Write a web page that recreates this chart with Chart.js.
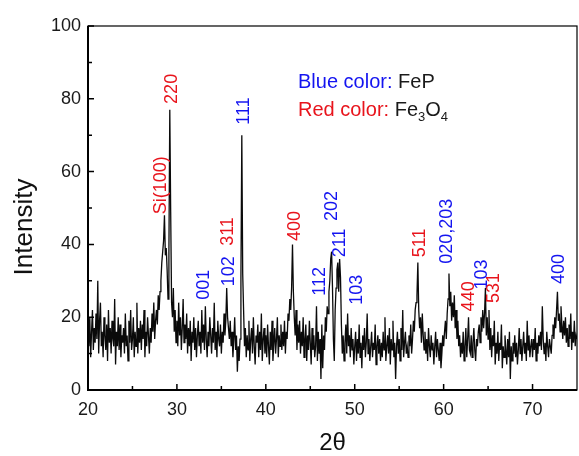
<!DOCTYPE html>
<html>
<head>
<meta charset="utf-8">
<script src="https://cdn.jsdelivr.net/npm/chart.js@4.4.1/dist/chart.umd.min.js"></script>
<style>
  html, body { margin: 0; padding: 0; background: #fff; }
  #wrap { width: 579px; height: 456px; }
</style>
</head>
<body>
<div id="wrap"><canvas id="xrd" width="579" height="456"></canvas></div>
<script>
// 2theta grid: 20.0 .. 75.0, step 0.1
const angleStart = 20;
const angleStep = 0.1;

const intensity = [
  18,12,20,9,16,22,11,17,13,21,
  14,30,10,19,24,12,16,9,20,15,
  11,18,8,22,13,17,10,19,14,12,
  25,7,16,12,20,11,18,9,15,13,
  17,10,21,12,15,8,19,13,22,11,
  14,20,9,16,12,24,10,17,13,19,
  11,18,14,22,9,16,12,20,15,10,
  17,13,21,16,24,14,19,22,18,26,
  22,27,30,35,38,41,48,37,39,33,
  25,38,77,49,24,20,28,16,22,13,
  19,12,24,15,20,11,17,25,13,18,
  14,21,10,17,12,19,8,16,13,20,
  11,17,9,15,19,12,16,10,22,13,
  18,11,23,14,9,16,12,20,15,10,
  17,13,24,11,16,9,19,14,12,18,
  10,16,13,21,15,19,28,20,17,14,
  19,12,16,9,14,20,11,15,5,12,
  8,14,31,70,32,22,12,17,9,15,
  11,19,8,14,17,10,20,12,7,15,
  13,18,9,16,11,21,8,14,17,10,
  15,9,18,12,7,16,11,19,8,13,
  17,10,14,20,9,15,12,18,11,16,
  12,19,10,16,14,21,19,25,22,28,
  40,27,20,15,22,11,18,13,19,10,
  16,12,20,9,14,18,8,15,11,19,
  13,7,17,11,15,9,12,23,8,16,
  10,14,3,18,6,15,11,20,16,23,
  21,27,30,36,38,28,14,8,22,28,
  33,35,27,36,31,18,10,15,8,13,
  18,10,21,12,15,9,17,11,14,7,
  12,16,8,14,10,18,9,13,6,15,
  11,17,9,13,21,10,14,8,12,16,
  9,13,11,18,7,12,15,10,14,8,
  13,9,16,11,20,8,12,15,10,17,
  7,14,11,19,9,13,3,12,16,10,
  14,8,17,11,22,9,13,16,10,12,
  9,15,12,18,10,14,19,16,22,24,
  26,35,22,17,20,13,21,15,11,16,
  10,14,8,17,12,9,15,11,13,7,
  12,16,9,14,11,8,13,6,10,15,
  12,16,19,14,21,25,32,23,27,19,
  24,20,26,17,22,14,19,12,15,9,
  13,10,16,8,12,17,9,14,20,11,
  10,15,9,13,17,11,8,14,12,16,
  18,13,20,16,22,17,21,28,15,20,
  14,22,11,17,9,15,12,19,7,13,
  10,16,8,13,11,18,6,12,9,15,
  11,7,14,9,16,3,12,8,13,10,
  15,9,13,7,11,17,10,14,8,12,
  16,10,13,8,19,11,15,9,12,14,
  9,14,11,17,8,13,10,15,12,16,
  11,23,14,10,13,8,16,12,9,14,
  12,10,15,18,14,20,17,22,27,19,
  21,16,23,18,14,19,15,20,13,17,
  12,18,14,21,11,16,13,19,12,15,
  14
];

// indexação dos picos
const peakLabels = ["Si(100)", "220", "001", "102", "311", "111", "400", "112", "202", "211", "103", "511", "020,203", "440", "103", "531", "400"];
const peakPhase  = ["Fe3O4", "Fe3O4", "FeP", "FeP", "Fe3O4", "FeP", "Fe3O4", "FeP", "FeP", "FeP", "FeP", "Fe3O4", "FeP", "Fe3O4", "FeP", "Fe3O4", "FeP"];
const peakAngle  = [28.25, 29.4, 33.1, 35.9, 35.7, 37.5, 43.3, 46.1, 47.4, 48.4, 50.3, 57.3, 60.4, 62.9, 64.3, 65.7, 73.0];
const peakTextAt = [48.3, 78.6, 24.8, 28.5, 39.6, 72.9, 40.9, 25.9, 46.4, 36.5, 23.4, 36.5, 34.7, 21.6, 27.6, 23.9, 29.1];

const xTicks = [20, 30, 40, 50, 60, 70];
const yTicks = [0, 20, 40, 60, 80, 100];

const BLUE = "#1414f0";
const RED = "#e8141c";
const FONT = "'Liberation Sans', Arial, Helvetica, sans-serif";

const pontos = intensity.map((v, i) => ({ x: +(angleStart + i * angleStep).toFixed(2), y: v }));

// moldura + ticks para dentro
const moldura = {
  id: "moldura",
  afterDatasetsDraw(chart) {
    const { ctx, chartArea: a, scales: { x, y } } = chart;
    ctx.save();
    ctx.strokeStyle = "#000";
    ctx.lineWidth = 1.2;
    ctx.strokeRect(a.left, a.top, a.right - a.left, a.bottom - a.top);
    ctx.lineWidth = 2;
    ctx.beginPath();
    ctx.moveTo(a.left, a.top);
    ctx.lineTo(a.left, a.bottom);
    ctx.lineTo(a.right, a.bottom);
    ctx.stroke();

    ctx.lineWidth = 1.5;
    ctx.beginPath();
    xTicks.forEach(t => {
      const px = x.getPixelForValue(t);
      ctx.moveTo(px, a.bottom); ctx.lineTo(px, a.bottom - 6);
      const pm = x.getPixelForValue(t + 5);
      if (pm < a.right - 1) { ctx.moveTo(pm, a.bottom); ctx.lineTo(pm, a.bottom - 4); }
    });
    yTicks.forEach(t => {
      const py = y.getPixelForValue(t);
      ctx.moveTo(a.left, py); ctx.lineTo(a.left + 6, py);
      if (t < 100) {
        const pm = y.getPixelForValue(t + 10);
        ctx.moveTo(a.left, pm); ctx.lineTo(a.left + 4, pm);
      }
    });
    ctx.stroke();
    ctx.restore();
  }
};

// rótulos dos picos, legenda de cores e títulos dos eixos
const textos = {
  id: "textos",
  afterDraw(chart) {
    const { ctx, chartArea: a, scales: { x, y } } = chart;
    ctx.save();
    ctx.font = "18px " + FONT;
    ctx.textAlign = "left";
    ctx.textBaseline = "middle";
    peakLabels.forEach((txt, i) => {
      ctx.save();
      ctx.translate(x.getPixelForValue(peakAngle[i]), y.getPixelForValue(peakTextAt[i]));
      ctx.rotate(-Math.PI / 2);
      ctx.fillStyle = peakPhase[i] === "FeP" ? BLUE : RED;
      ctx.fillText(txt, 0, 0);
      ctx.restore();
    });

    // legenda
    ctx.font = "20px " + FONT;
    let lx = 298;
    ctx.fillStyle = BLUE;
    ctx.fillText("Blue color: ", lx, 82);
    ctx.fillStyle = "#1a1a1a";
    ctx.fillText("FeP", lx + ctx.measureText("Blue color: ").width, 82);

    ctx.fillStyle = RED;
    ctx.fillText("Red color: ", lx, 110);
    lx += ctx.measureText("Red color: ").width;
    const partes = [["Fe", 0], ["3", 1], ["O", 0], ["4", 1]];
    ctx.fillStyle = "#1a1a1a";
    partes.forEach(([s, sub]) => {
      ctx.font = (sub ? "13px " : "20px ") + FONT;
      ctx.fillText(s, lx, sub ? 117 : 110);
      lx += ctx.measureText(s).width;
    });

    // títulos
    ctx.fillStyle = "#111";
    ctx.textAlign = "center";
    ctx.font = "26px " + FONT;
    ctx.save();
    ctx.translate(25, 227);
    ctx.rotate(-Math.PI / 2);
    ctx.fillText("Intensity", 0, 0);
    ctx.restore();
    ctx.font = "24px " + FONT;
    ctx.fillText("2\u03B8", (a.left + a.right) / 2, 443);
    ctx.restore();
  }
};

new Chart(document.getElementById("xrd"), {
  type: "line",
  data: {
    datasets: [{
      data: pontos,
      borderColor: "#0a0a0a",
      borderWidth: 1.3,
      pointRadius: 0,
      tension: 0,
      fill: false
    }]
  },
  options: {
    responsive: false,
    animation: false,
    devicePixelRatio: 1,
    layout: { padding: { top: 26, right: 2, left: 0, bottom: 0 } },
    plugins: { legend: { display: false }, tooltip: { enabled: false } },
    scales: {
      x: {
        type: "linear",
        min: 20,
        max: 75,
        grid: { display: false, drawTicks: false },
        border: { display: false },
        afterBuildTicks: s => { s.ticks = xTicks.map(v => ({ value: v })); },
        afterFit: s => { s.height = 66; },
        ticks: { color: "#1a1a1a", font: { size: 18, family: FONT }, padding: 9, maxRotation: 0 }
      },
      y: {
        min: 0,
        max: 100,
        grid: { display: false, drawTicks: false },
        border: { display: false },
        afterBuildTicks: s => { s.ticks = yTicks.map(v => ({ value: v })); },
        afterFit: s => { s.width = 88; },
        ticks: { color: "#1a1a1a", font: { size: 18, family: FONT }, padding: 7 }
      }
    }
  },
  plugins: [moldura, textos]
});
</script>
</body>
</html>
